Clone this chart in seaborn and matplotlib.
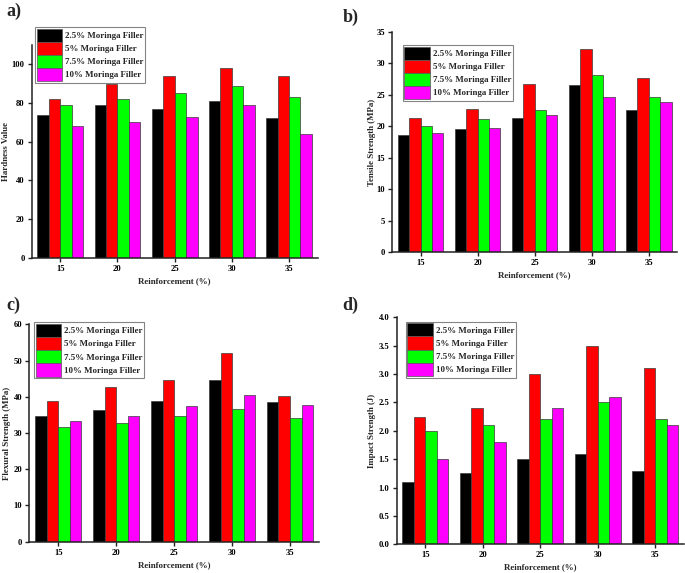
import matplotlib
matplotlib.use("Agg")
import matplotlib.pyplot as plt
import seaborn as sns
import pandas as pd
from matplotlib.ticker import MultipleLocator, FormatStrFormatter

reinforcement = ["15", "20", "25", "30", "35"]
fillers = ["2.5% Moringa Filler", "5% Moringa Filler", "7.5% Moringa Filler", "10% Moringa Filler"]
colors = ["#000000", "#ff0000", "#00ff00", "#ff00ff"]

hardness = {
    "2.5% Moringa Filler": [74, 79, 77, 81, 72],
    "5% Moringa Filler": [82, 90, 94, 98, 94],
    "7.5% Moringa Filler": [79, 82, 85, 89, 83],
    "10% Moringa Filler": [68, 70, 73, 79, 64],
}
tensile = {
    "2.5% Moringa Filler": [18.6, 19.5, 21.3, 26.5, 22.5],
    "5% Moringa Filler": [21.3, 22.7, 26.7, 32.3, 27.6],
    "7.5% Moringa Filler": [20.1, 21.1, 22.5, 28.2, 24.7],
    "10% Moringa Filler": [18.9, 19.8, 21.8, 24.7, 23.8],
}
flexural = {
    "2.5% Moringa Filler": [34.6, 36.4, 38.9, 44.5, 38.6],
    "5% Moringa Filler": [38.9, 42.7, 44.5, 52.2, 40.3],
    "7.5% Moringa Filler": [31.7, 32.7, 34.6, 36.6, 34.1],
    "10% Moringa Filler": [33.3, 34.6, 37.4, 40.4, 37.8],
}
impact = {
    "2.5% Moringa Filler": [1.1, 1.25, 1.5, 1.6, 1.3],
    "5% Moringa Filler": [2.25, 2.4, 3.0, 3.5, 3.1],
    "7.5% Moringa Filler": [2.0, 2.1, 2.2, 2.5, 2.2],
    "10% Moringa Filler": [1.5, 1.8, 2.4, 2.6, 2.1],
}

sns.set_theme(style="ticks")
plt.rcParams["font.family"] = ["Liberation Serif", "DejaVu Serif"]
plt.rcParams["font.weight"] = "bold"

fig = plt.figure(figsize=(6.85, 5.73), dpi=100)

panels = [
    # data, ylabel, ylim, step, fmt, axes rect px (left, right, bottom, top), legend corner px, letter px, ylabel right px
    (hardness, "Hardness Value", 110, 20, "%d", (31.7, 317.6, 257.7, 45.0), (35, 27), (6, 3), "a)", 10.5),
    (tensile, "Tensile Strength (MPa)", 35, 5, "%d", (392.0, 677.3, 252.3, 31.7), (402.7, 45), (343, 9), "b)", 376.5),
    (flexural, "Flexural Strength (MPa)", 60, 10, "%d", (29.3, 319.0, 541.7, 324.3), (34, 322.3), (6, 297), "c)", 10.5),
    (impact, "Impact Strength (J)", 4.0, 0.5, "%.1f", (396.5, 684.0, 544.3, 317.3), (405.7, 321.7), (342, 297), "d)", 376.5),
]

W, H = 685.0, 573.0
for data, ylabel, ymax, step, fmt, (l, r, b, t), (lx, ly), (px, py), letter, ylx in panels:
    ax = fig.add_axes([l / W, 1 - b / H, (r - l) / W, (b - t) / H])
    rows = []
    for f in fillers:
        for x, v in zip(reinforcement, data[f]):
            rows.append({"Reinforcement": x, "Filler": f, "Value": v})
    df = pd.DataFrame(rows)
    sns.barplot(data=df, x="Reinforcement", y="Value", hue="Filler",
                hue_order=fillers, order=reinforcement, palette=colors,
                saturation=1, width=0.8, edgecolor="#3a3a3a", linewidth=0.5,
                errorbar=None, ax=ax)
    ax.set_xlim(-0.5, 4.5)
    ax.set_ylim(0, ymax)
    ax.yaxis.set_major_locator(MultipleLocator(step))
    ax.yaxis.set_major_formatter(FormatStrFormatter(fmt))
    for s in ["top", "right"]:
        ax.spines[s].set_visible(False)
    for s in ["left", "bottom"]:
        ax.spines[s].set_linewidth(1.1)
        ax.spines[s].set_color("#222222")
    ax.tick_params(direction="out", length=3, width=1, labelsize=6.2, pad=2, colors="#222222")
    for lab in ax.get_xticklabels() + ax.get_yticklabels():
        lab.set_fontweight("bold")
        lab.set_color("black")
    ax.set_xlabel("Reinforcement (%)", fontsize=6.4, fontweight="bold", labelpad=3)
    ax.set_ylabel(ylabel, fontsize=6.4, fontweight="bold")
    ax.yaxis.set_label_coords((ylx - l) / (r - l), 0.5)
    ax.legend_.remove()
    handles = [plt.Rectangle((0, 0), 1, 1, facecolor=c, edgecolor="#555555", linewidth=0.5) for c in colors]
    leg = ax.legend(handles, fillers, loc="upper left",
                    bbox_to_anchor=(lx / W, 1 - ly / H), bbox_transform=fig.transFigure,
                    prop={"weight": "bold", "size": 6.4},
                    handlelength=2.9, handleheight=1.9, labelspacing=0.0,
                    handletextpad=0.3, borderpad=0.18, borderaxespad=0,
                    fancybox=False, frameon=True)
    leg.get_frame().set_edgecolor("#666666")
    leg.get_frame().set_linewidth(0.8)
    fig.text(px / W, 1 - py / H, letter, fontsize=13, fontweight="bold", va="top", ha="left")

fig.savefig("out.png", dpi=100)
